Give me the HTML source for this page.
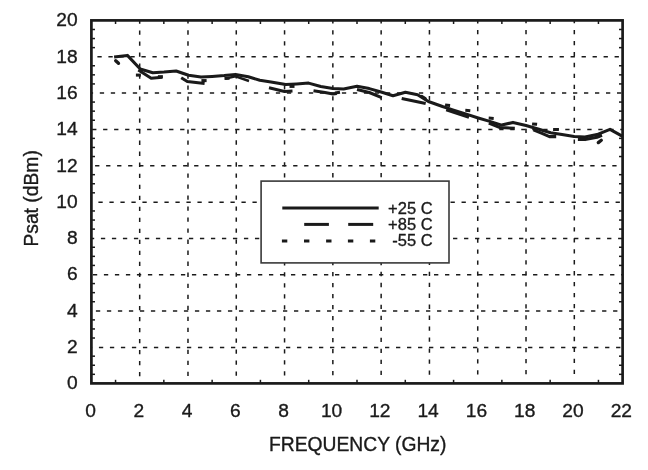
<!DOCTYPE html>
<html lang="en">
<head>
<meta charset="utf-8">
<title>Psat vs Frequency</title>
<style>
html,body{margin:0;padding:0;background:#ffffff;}
body{width:648px;height:470px;position:relative;overflow:hidden;font-family:"Liberation Sans", sans-serif;}
</style>
</head>
<body>
<svg width="648" height="470" viewBox="0 0 648 470" style="position:absolute;left:0;top:0;filter:grayscale(1)">
<rect x="0" y="0" width="648" height="470" fill="#ffffff"/>
<g stroke="#1c1a1a" stroke-width="1.5" fill="none">
<line x1="91.40" y1="56.70" x2="622.60" y2="56.70" stroke-dasharray="4.3 6.704" stroke-dashoffset="5.00"/>
<line x1="91.40" y1="93.00" x2="622.60" y2="93.00" stroke-dasharray="4.3 6.704" stroke-dashoffset="2.60"/>
<line x1="91.40" y1="129.40" x2="622.60" y2="129.40" stroke-dasharray="4.3 6.704" stroke-dashoffset="10.30"/>
<line x1="91.40" y1="165.70" x2="622.60" y2="165.70" stroke-dasharray="4.3 6.704" stroke-dashoffset="7.30"/>
<line x1="91.40" y1="202.15" x2="622.60" y2="202.15" stroke-dasharray="4.3 6.704" stroke-dashoffset="4.00"/>
<line x1="91.40" y1="238.45" x2="622.60" y2="238.45" stroke-dasharray="4.3 6.704" stroke-dashoffset="1.50"/>
<line x1="91.40" y1="274.75" x2="622.60" y2="274.75" stroke-dasharray="4.3 6.704" stroke-dashoffset="9.50"/>
<line x1="91.40" y1="311.05" x2="622.60" y2="311.05" stroke-dasharray="4.3 6.704" stroke-dashoffset="6.50"/>
<line x1="91.40" y1="347.60" x2="622.60" y2="347.60" stroke-dasharray="4.3 6.704" stroke-dashoffset="3.50"/>
<line x1="139.69" y1="20.40" x2="139.69" y2="380.40" stroke-dasharray="4.3 6.720" stroke-dashoffset="1.04"/>
<line x1="187.98" y1="20.40" x2="187.98" y2="380.40" stroke-dasharray="4.3 6.713" stroke-dashoffset="1.08"/>
<line x1="236.27" y1="20.40" x2="236.27" y2="380.40" stroke-dasharray="4.3 6.707" stroke-dashoffset="1.12"/>
<line x1="284.56" y1="20.40" x2="284.56" y2="380.40" stroke-dasharray="4.3 6.700" stroke-dashoffset="1.16"/>
<line x1="332.85" y1="20.40" x2="332.85" y2="380.40" stroke-dasharray="4.3 6.693" stroke-dashoffset="1.20"/>
<line x1="381.15" y1="20.40" x2="381.15" y2="380.40" stroke-dasharray="4.3 6.687" stroke-dashoffset="1.24"/>
<line x1="429.44" y1="20.40" x2="429.44" y2="380.40" stroke-dasharray="4.3 6.680" stroke-dashoffset="1.28"/>
<line x1="477.73" y1="20.40" x2="477.73" y2="380.40" stroke-dasharray="4.3 6.674" stroke-dashoffset="1.32"/>
<line x1="526.02" y1="20.40" x2="526.02" y2="380.40" stroke-dasharray="4.3 6.667" stroke-dashoffset="1.36"/>
<line x1="574.31" y1="20.40" x2="574.31" y2="380.40" stroke-dasharray="4.3 6.660" stroke-dashoffset="1.40"/>
</g>
<g stroke="#1c1a1a" stroke-width="1.5" fill="none">
<line x1="115.55" y1="20.40" x2="115.55" y2="24.00"/>
<line x1="115.55" y1="383.40" x2="115.55" y2="379.80"/>
<line x1="163.84" y1="20.40" x2="163.84" y2="24.00"/>
<line x1="163.84" y1="383.40" x2="163.84" y2="379.80"/>
<line x1="212.13" y1="20.40" x2="212.13" y2="24.00"/>
<line x1="212.13" y1="383.40" x2="212.13" y2="379.80"/>
<line x1="260.42" y1="20.40" x2="260.42" y2="24.00"/>
<line x1="260.42" y1="383.40" x2="260.42" y2="379.80"/>
<line x1="308.71" y1="20.40" x2="308.71" y2="24.00"/>
<line x1="308.71" y1="383.40" x2="308.71" y2="379.80"/>
<line x1="357.00" y1="20.40" x2="357.00" y2="24.00"/>
<line x1="357.00" y1="383.40" x2="357.00" y2="379.80"/>
<line x1="405.29" y1="20.40" x2="405.29" y2="24.00"/>
<line x1="405.29" y1="383.40" x2="405.29" y2="379.80"/>
<line x1="453.58" y1="20.40" x2="453.58" y2="24.00"/>
<line x1="453.58" y1="383.40" x2="453.58" y2="379.80"/>
<line x1="501.87" y1="20.40" x2="501.87" y2="24.00"/>
<line x1="501.87" y1="383.40" x2="501.87" y2="379.80"/>
<line x1="550.16" y1="20.40" x2="550.16" y2="24.00"/>
<line x1="550.16" y1="383.40" x2="550.16" y2="379.80"/>
<line x1="598.45" y1="20.40" x2="598.45" y2="24.00"/>
<line x1="598.45" y1="383.40" x2="598.45" y2="379.80"/>
<line x1="91.40" y1="374.32" x2="95.00" y2="374.32"/>
<line x1="622.60" y1="374.32" x2="619.00" y2="374.32"/>
<line x1="91.40" y1="365.25" x2="95.00" y2="365.25"/>
<line x1="622.60" y1="365.25" x2="619.00" y2="365.25"/>
<line x1="91.40" y1="356.17" x2="95.00" y2="356.17"/>
<line x1="622.60" y1="356.17" x2="619.00" y2="356.17"/>
<line x1="91.40" y1="338.02" x2="95.00" y2="338.02"/>
<line x1="622.60" y1="338.02" x2="619.00" y2="338.02"/>
<line x1="91.40" y1="328.95" x2="95.00" y2="328.95"/>
<line x1="622.60" y1="328.95" x2="619.00" y2="328.95"/>
<line x1="91.40" y1="319.88" x2="95.00" y2="319.88"/>
<line x1="622.60" y1="319.88" x2="619.00" y2="319.88"/>
<line x1="91.40" y1="301.72" x2="95.00" y2="301.72"/>
<line x1="622.60" y1="301.72" x2="619.00" y2="301.72"/>
<line x1="91.40" y1="292.65" x2="95.00" y2="292.65"/>
<line x1="622.60" y1="292.65" x2="619.00" y2="292.65"/>
<line x1="91.40" y1="283.57" x2="95.00" y2="283.57"/>
<line x1="622.60" y1="283.57" x2="619.00" y2="283.57"/>
<line x1="91.40" y1="265.42" x2="95.00" y2="265.42"/>
<line x1="622.60" y1="265.42" x2="619.00" y2="265.42"/>
<line x1="91.40" y1="256.35" x2="95.00" y2="256.35"/>
<line x1="622.60" y1="256.35" x2="619.00" y2="256.35"/>
<line x1="91.40" y1="247.27" x2="95.00" y2="247.27"/>
<line x1="622.60" y1="247.27" x2="619.00" y2="247.27"/>
<line x1="91.40" y1="229.12" x2="95.00" y2="229.12"/>
<line x1="622.60" y1="229.12" x2="619.00" y2="229.12"/>
<line x1="91.40" y1="220.05" x2="95.00" y2="220.05"/>
<line x1="622.60" y1="220.05" x2="619.00" y2="220.05"/>
<line x1="91.40" y1="210.97" x2="95.00" y2="210.97"/>
<line x1="622.60" y1="210.97" x2="619.00" y2="210.97"/>
<line x1="91.40" y1="192.82" x2="95.00" y2="192.82"/>
<line x1="622.60" y1="192.82" x2="619.00" y2="192.82"/>
<line x1="91.40" y1="183.75" x2="95.00" y2="183.75"/>
<line x1="622.60" y1="183.75" x2="619.00" y2="183.75"/>
<line x1="91.40" y1="174.67" x2="95.00" y2="174.67"/>
<line x1="622.60" y1="174.67" x2="619.00" y2="174.67"/>
<line x1="91.40" y1="156.53" x2="95.00" y2="156.53"/>
<line x1="622.60" y1="156.53" x2="619.00" y2="156.53"/>
<line x1="91.40" y1="147.45" x2="95.00" y2="147.45"/>
<line x1="622.60" y1="147.45" x2="619.00" y2="147.45"/>
<line x1="91.40" y1="138.38" x2="95.00" y2="138.38"/>
<line x1="622.60" y1="138.38" x2="619.00" y2="138.38"/>
<line x1="91.40" y1="120.23" x2="95.00" y2="120.23"/>
<line x1="622.60" y1="120.23" x2="619.00" y2="120.23"/>
<line x1="91.40" y1="111.15" x2="95.00" y2="111.15"/>
<line x1="622.60" y1="111.15" x2="619.00" y2="111.15"/>
<line x1="91.40" y1="102.07" x2="95.00" y2="102.07"/>
<line x1="622.60" y1="102.07" x2="619.00" y2="102.07"/>
<line x1="91.40" y1="83.93" x2="95.00" y2="83.93"/>
<line x1="622.60" y1="83.93" x2="619.00" y2="83.93"/>
<line x1="91.40" y1="74.85" x2="95.00" y2="74.85"/>
<line x1="622.60" y1="74.85" x2="619.00" y2="74.85"/>
<line x1="91.40" y1="65.77" x2="95.00" y2="65.77"/>
<line x1="622.60" y1="65.77" x2="619.00" y2="65.77"/>
<line x1="91.40" y1="47.62" x2="95.00" y2="47.62"/>
<line x1="622.60" y1="47.62" x2="619.00" y2="47.62"/>
<line x1="91.40" y1="38.55" x2="95.00" y2="38.55"/>
<line x1="622.60" y1="38.55" x2="619.00" y2="38.55"/>
<line x1="91.40" y1="29.48" x2="95.00" y2="29.48"/>
<line x1="622.60" y1="29.48" x2="619.00" y2="29.48"/>
</g>
<g stroke="#1c1a1a" stroke-width="3.05" fill="none" stroke-linejoin="round" stroke-linecap="butt">
<polyline points="114.1,56.9 127.4,55.4 140.2,69.0 152.8,72.7 164.0,72.1 176.1,71.0 188.6,75.3 201.0,77.1 212.1,76.4 224.2,75.5 235.5,74.4 248.3,76.7 259.8,80.3 271.0,81.9 285.7,84.6 296.6,83.9 308.6,83.1 320.8,86.5 332.9,88.6 343.6,89.0 357.0,86.2 369.3,88.6 381.1,92.0 393.0,95.7 405.4,92.2 417.6,94.7 428.4,101.5 442.5,106.5 453.6,110.1 465.6,113.9 477.4,117.7 489.8,121.4 501.7,125.1 513.0,122.4 526.0,125.5 538.1,129.0 550.6,132.7 562.0,134.6 574.2,136.5 585.0,137.0 597.0,134.6 610.0,129.4 622.6,136.4"/>
<polyline points="138.3,70.0 151.2,78.3 162.4,77.3"/>
<polyline points="181.2,77.8 187.3,81.5 204.6,83.4"/>
<polyline points="225.6,78.5 235.5,76.3 249.0,81.0" stroke-width="2.4"/>
<polyline points="269.0,87.7 284.5,91.4 292.5,91.0"/>
<polyline points="313.5,90.8 325.0,92.6 333.0,94.0 336.8,93.6"/>
<polyline points="357.0,89.6 369.3,92.5 381.7,97.7"/>
<polyline points="401.7,98.6 425.7,103.6"/>
<polyline points="446.2,109.8 469.0,117.3"/>
<polyline points="488.8,123.1 500.0,127.5 514.8,128.3"/>
<polyline points="533.4,129.9 542.0,133.4 549.5,136.6 556.2,136.6"/>
<polyline points="577.9,139.4 585.0,139.6 597.0,137.2 602.0,135.3"/>
<line x1="115.7" y1="60.7" x2="118.5" y2="63.3" stroke-linecap="round" stroke-width="3.3"/>
<line x1="135.9" y1="75.1" x2="140.9" y2="75.1"/>
<line x1="157.9" y1="76.7" x2="162.9" y2="76.7"/>
<line x1="201.4" y1="80.6" x2="206.6" y2="80.6"/>
<line x1="224.5" y1="78.6" x2="229.5" y2="78.2"/>
<line x1="289.5" y1="86.4" x2="294.5" y2="86.4"/>
<line x1="335.0" y1="93.0" x2="340.0" y2="92.2"/>
<line x1="422.0" y1="96.6" x2="425.2" y2="98.6" stroke-linecap="round" stroke-width="3.3"/>
<line x1="445.1" y1="105.1" x2="450.1" y2="105.5"/>
<line x1="465.3" y1="110.3" x2="470.3" y2="110.7"/>
<line x1="488.7" y1="118.0" x2="493.7" y2="118.4"/>
<line x1="532.1" y1="123.9" x2="537.1" y2="124.3"/>
<line x1="553.1" y1="129.4" x2="558.9" y2="129.6"/>
<line x1="598.3" y1="142.6" x2="601.3" y2="140.2" stroke-linecap="round" stroke-width="3.3"/>
</g>
<rect x="91.40" y="20.40" width="531.20" height="363.00" fill="none" stroke="#1c1a1a" stroke-width="2.7"/>
<rect x="261.1" y="181.1" width="187.9" height="81.8" fill="#ffffff" stroke="#3b3939" stroke-width="1.6"/>
<g stroke="#1c1a1a" stroke-width="3.0" fill="none">
<line x1="282.3" y1="208.1" x2="378.7" y2="208.1"/>
<line x1="304.2" y1="224.4" x2="328.9" y2="224.4"/>
<line x1="348.2" y1="224.4" x2="373.2" y2="224.4"/>
<line x1="281.9" y1="241.0" x2="287.3" y2="241.0"/>
<line x1="304.0" y1="241.0" x2="309.4" y2="241.0"/>
<line x1="326.1" y1="241.0" x2="331.5" y2="241.0"/>
<line x1="347.9" y1="241.0" x2="353.3" y2="241.0"/>
<line x1="369.9" y1="241.0" x2="375.3" y2="241.0"/>
</g>
<g font-family='"Liberation Sans", sans-serif' fill="#1c1a1a" stroke="#1c1a1a" stroke-width="0.35" stroke-linejoin="round">
<text x="432.6" y="214.0" font-size="16.5" text-anchor="end">+25 C</text>
<text x="432.6" y="229.9" font-size="16.5" text-anchor="end">+85 C</text>
<text x="432.6" y="245.7" font-size="16.5" text-anchor="end">-55 C</text>
<text x="77.7" y="389.3" font-size="19.2" text-anchor="end">0</text>
<text x="77.7" y="353.0" font-size="19.2" text-anchor="end">2</text>
<text x="77.7" y="316.7" font-size="19.2" text-anchor="end">4</text>
<text x="77.7" y="280.4" font-size="19.2" text-anchor="end">6</text>
<text x="77.7" y="244.1" font-size="19.2" text-anchor="end">8</text>
<text x="77.7" y="207.8" font-size="19.2" text-anchor="end">10</text>
<text x="77.7" y="171.5" font-size="19.2" text-anchor="end">12</text>
<text x="77.7" y="135.2" font-size="19.2" text-anchor="end">14</text>
<text x="77.7" y="98.9" font-size="19.2" text-anchor="end">16</text>
<text x="77.7" y="62.6" font-size="19.2" text-anchor="end">18</text>
<text x="77.7" y="26.3" font-size="19.2" text-anchor="end">20</text>
<text x="90.5" y="416.7" font-size="19.2" text-anchor="middle">0</text>
<text x="138.8" y="416.7" font-size="19.2" text-anchor="middle">2</text>
<text x="187.1" y="416.7" font-size="19.2" text-anchor="middle">4</text>
<text x="235.4" y="416.7" font-size="19.2" text-anchor="middle">6</text>
<text x="283.7" y="416.7" font-size="19.2" text-anchor="middle">8</text>
<text x="331.6" y="416.7" font-size="19.2" text-anchor="middle">10</text>
<text x="379.8" y="416.7" font-size="19.2" text-anchor="middle">12</text>
<text x="428.1" y="416.7" font-size="19.2" text-anchor="middle">14</text>
<text x="476.4" y="416.7" font-size="19.2" text-anchor="middle">16</text>
<text x="524.7" y="416.7" font-size="19.2" text-anchor="middle">18</text>
<text x="573.0" y="416.7" font-size="19.2" text-anchor="middle">20</text>
<text x="621.3" y="416.7" font-size="19.2" text-anchor="middle">22</text>
<text x="357.7" y="450.9" font-size="19.3" text-anchor="middle">FREQUENCY (GHz)</text>
<text transform="translate(37.7,198.4) rotate(-90)" font-size="19.3" text-anchor="middle">Psat (dBm)</text>
</g>
</svg>
</body>
</html>
